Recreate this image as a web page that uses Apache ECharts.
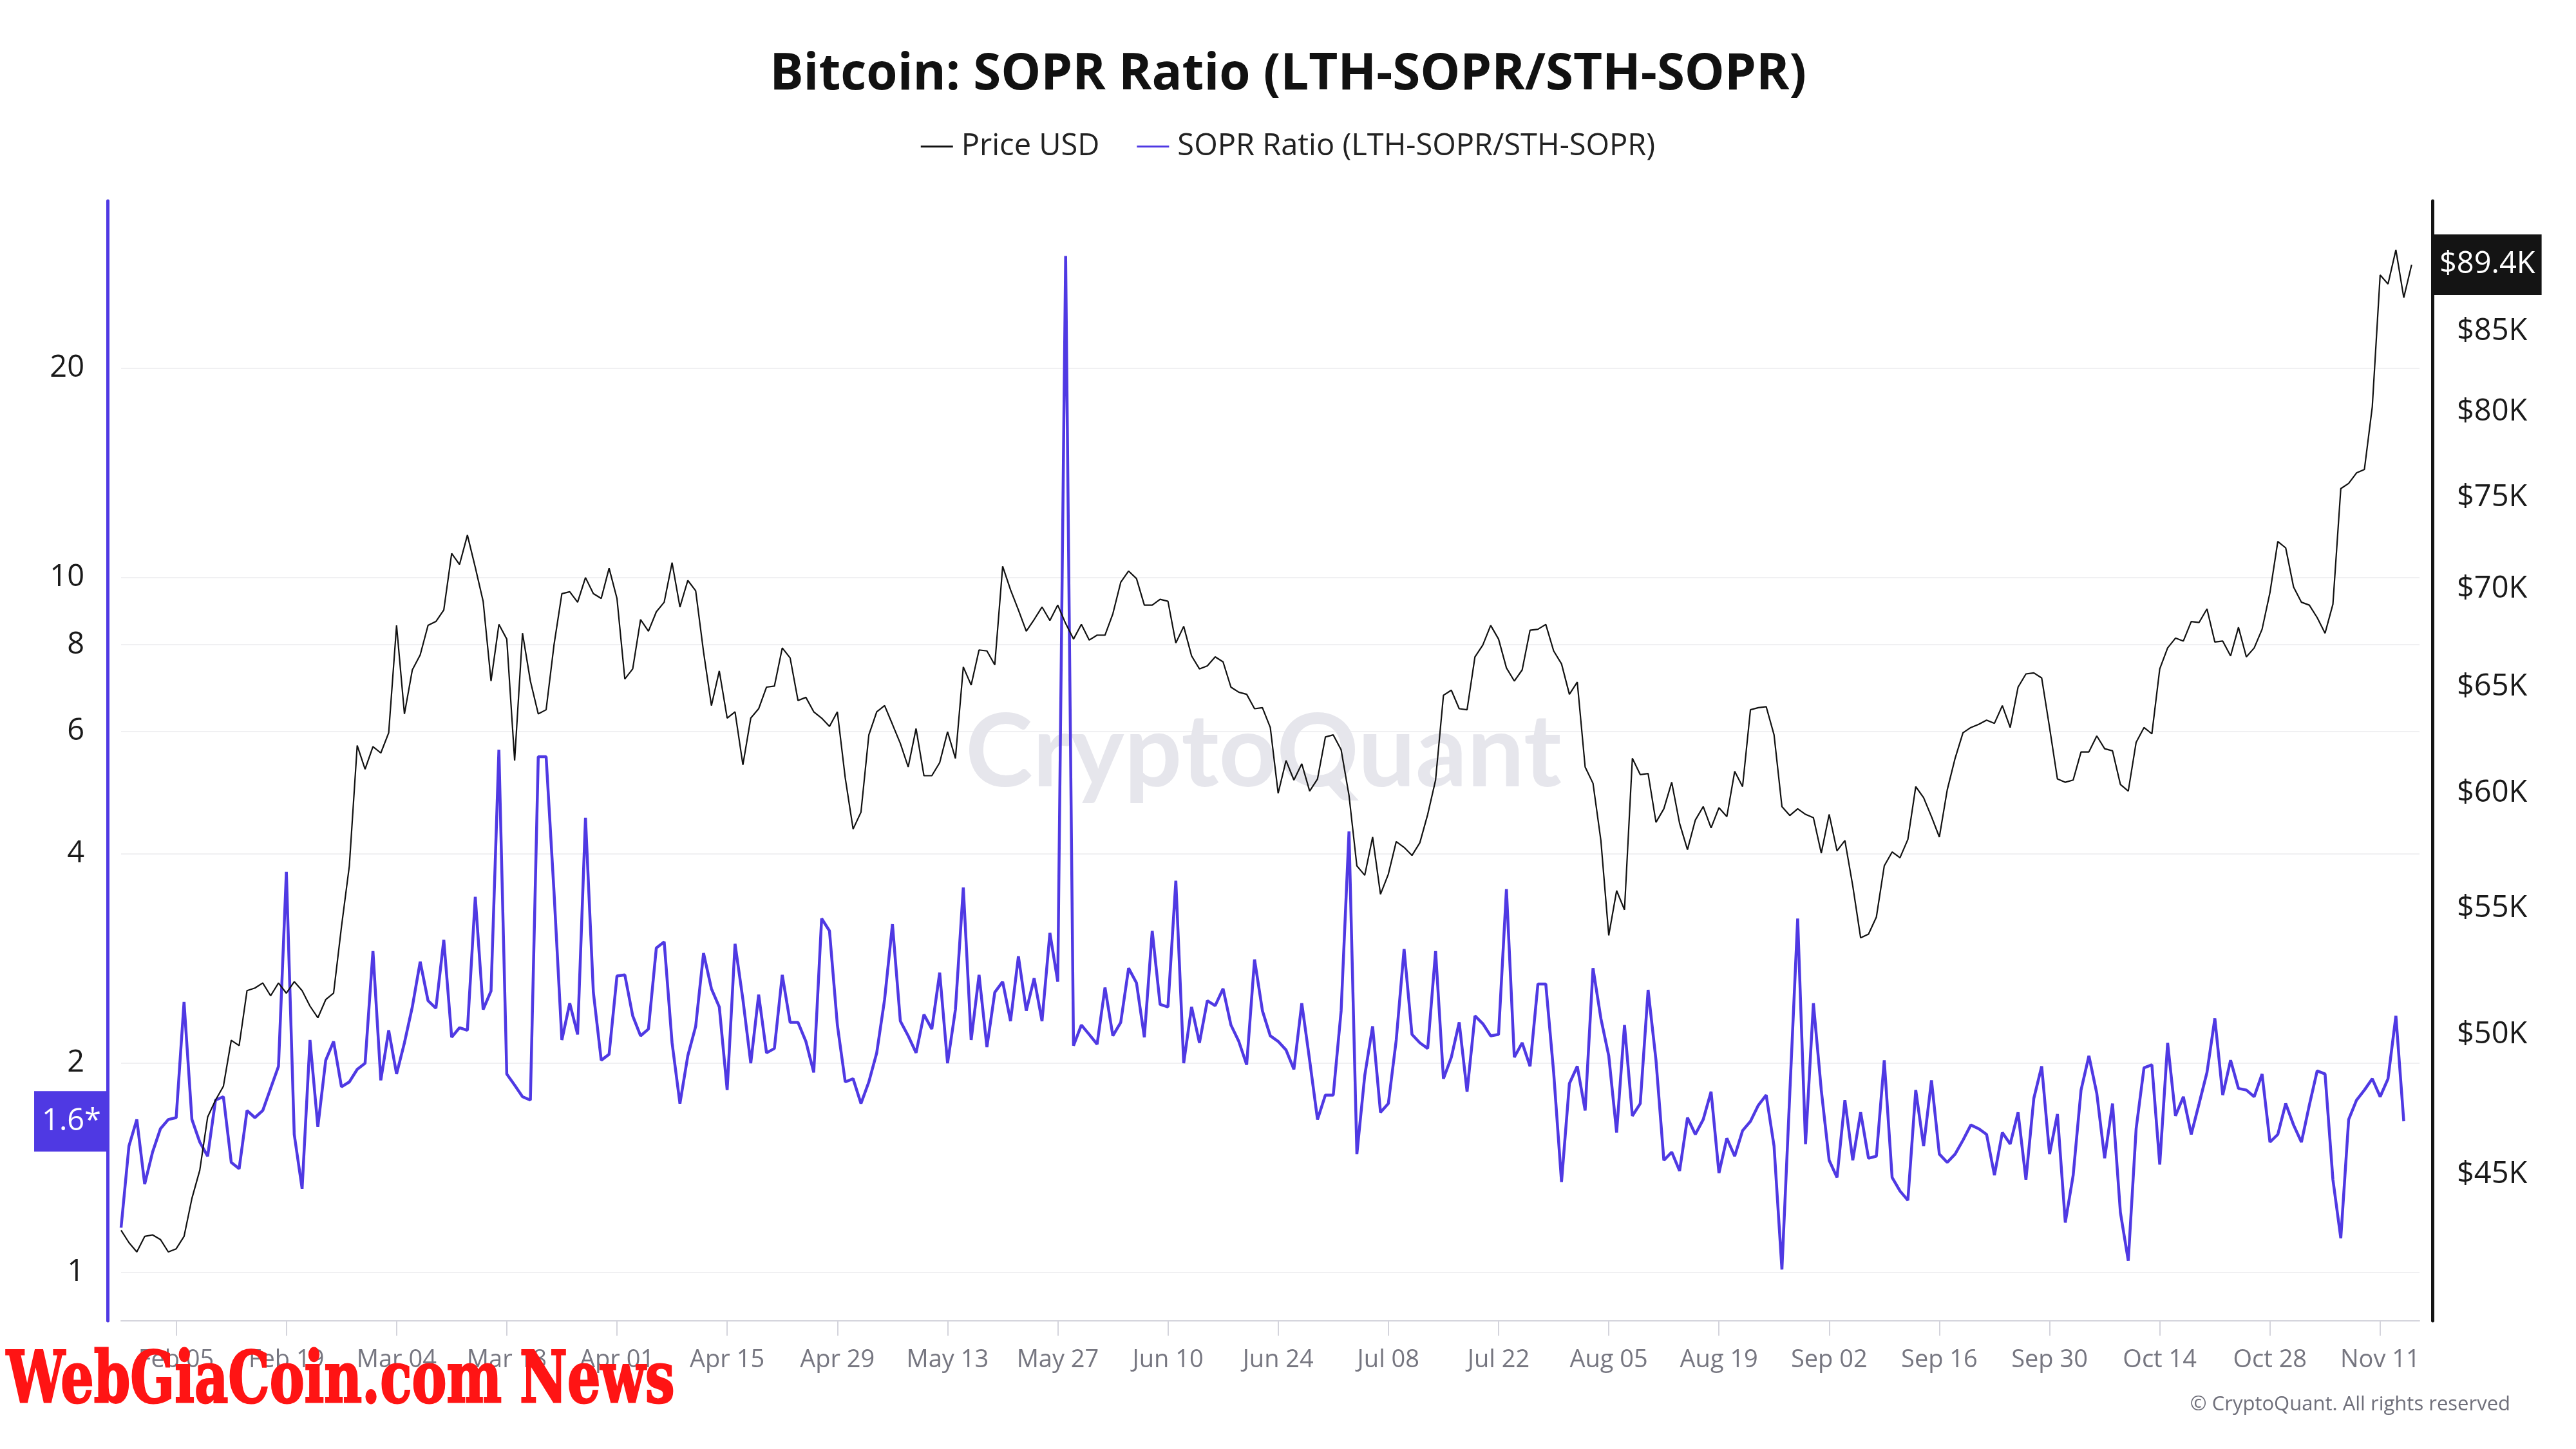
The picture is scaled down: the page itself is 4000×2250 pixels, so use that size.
<!DOCTYPE html>
<html><head><meta charset="utf-8">
<script src="https://cdn.jsdelivr.net/npm/echarts@6.0.0/dist/echarts.min.js"></script>
<style>html,body{margin:0;padding:0;background:#fff}#c{width:4000px;height:2250px}</style>
</head><body><div id="c"></div>
<script>
// ---- data ----
const startDate = [2024, 0, 29]; // Jan 29 2024, one value per day
const endDate = [2024, 10, 16];
const priceUsdK = [
43.15,42.75,42.45,42.95,43.0,42.85,42.45,42.55,42.95,44.2,
45.15,47.0,47.6,48.1,49.8,49.6,51.7,51.8,52.0,51.5,
52.0,51.6,52.05,51.7,51.1,50.65,51.35,51.6,54.25,56.8,
62.2,61.1,62.15,61.85,62.8,68.1,63.7,65.85,66.6,68.1,
68.3,68.9,71.9,71.3,72.9,71.15,69.35,65.3,68.15,67.4,
61.5,67.7,65.3,63.7,63.9,67.1,69.75,69.85,69.3,70.6,
69.75,69.5,71.1,69.5,65.4,65.9,68.4,67.8,68.8,69.3,
71.4,69.05,70.45,69.9,66.75,64.1,65.8,63.5,63.8,61.3,
63.5,63.95,65.0,65.05,66.95,66.45,64.35,64.5,63.8,63.5,
63.1,63.8,60.7,58.4,59.15,62.7,63.8,64.1,63.2,62.3,
61.2,63.0,60.8,60.8,61.4,62.85,61.6,66.0,65.1,66.85,
66.8,66.1,71.2,69.95,68.9,67.8,68.4,69.05,68.35,69.15,
68.2,67.4,68.15,67.35,67.6,67.6,68.7,70.35,70.95,70.55,
69.15,69.15,69.45,69.35,67.2,68.05,66.55,65.9,66.05,66.5,
66.25,65.0,64.75,64.65,63.95,64.0,63.05,60.0,61.5,60.6,
61.35,60.1,60.65,62.6,62.7,62.0,59.9,56.8,56.4,58.05,
55.6,56.45,57.85,57.6,57.25,57.8,59.05,60.6,64.6,64.85,
63.95,63.9,66.5,67.1,68.1,67.4,65.95,65.3,65.85,67.85,
67.9,68.15,66.8,66.15,64.65,65.25,61.2,60.45,57.9,53.9,
55.75,54.95,61.6,60.85,60.9,58.7,59.3,60.5,58.65,57.5,
58.8,59.4,58.45,59.35,58.95,61.0,60.3,63.9,64.0,64.05,
62.7,59.4,59.0,59.3,59.05,58.9,57.35,59.05,57.45,57.9,
55.95,53.8,53.95,54.65,56.8,57.4,57.15,57.95,60.3,59.8,
58.95,58.05,60.15,61.6,62.8,63.05,63.2,63.4,63.25,64.1,
63.05,65.0,65.65,65.7,65.45,63.05,60.65,60.5,60.6,61.9,
61.9,62.65,62.05,61.95,60.4,60.1,62.35,63.05,62.75,65.9,
66.95,67.45,67.3,68.3,68.25,68.95,67.25,67.3,66.55,68.0,
66.5,66.95,67.9,69.8,72.55,72.2,70.1,69.3,69.15,68.5,
67.7,69.2,75.5,75.8,76.4,76.6,80.3,88.7,88.1,90.4,
87.2,89.4
];
const soprRatio = [
1.16,1.52,1.66,1.34,1.49,1.61,1.66,1.67,2.45,1.66,
1.54,1.47,1.77,1.79,1.44,1.41,1.71,1.67,1.71,1.84,
1.98,3.77,1.58,1.32,2.16,1.62,2.02,2.15,1.85,1.88,
1.96,2.0,2.9,1.89,2.23,1.93,2.14,2.41,2.8,2.46,
2.4,3.01,2.18,2.25,2.23,3.47,2.39,2.54,5.65,1.93,
1.86,1.79,1.77,5.52,5.52,3.53,2.16,2.44,2.2,4.51,
2.53,2.02,2.06,2.67,2.68,2.34,2.19,2.24,2.93,2.99,
2.14,1.75,2.05,2.26,2.88,2.56,2.41,1.83,2.97,2.47,
2.0,2.51,2.07,2.1,2.68,2.29,2.29,2.15,1.94,3.23,
3.1,2.27,1.88,1.9,1.75,1.88,2.07,2.47,3.17,2.3,
2.19,2.07,2.35,2.24,2.7,2.0,2.39,3.58,2.16,2.68,
2.11,2.53,2.62,2.3,2.85,2.38,2.65,2.3,3.08,2.62,
29.0,2.12,2.27,2.2,2.13,2.57,2.19,2.29,2.74,2.61,
2.18,3.1,2.43,2.41,3.66,2.0,2.41,2.14,2.46,2.42,
2.56,2.27,2.15,1.99,2.82,2.38,2.19,2.15,2.09,1.96,
2.44,2.02,1.66,1.8,1.8,2.38,4.31,1.48,1.92,2.26,
1.7,1.75,2.16,2.92,2.2,2.14,2.1,2.9,1.9,2.04,
2.29,1.82,2.34,2.28,2.19,2.2,3.56,2.04,2.14,1.98,
2.6,2.6,1.94,1.35,1.87,1.98,1.71,2.74,2.32,2.05,
1.59,2.27,1.68,1.75,2.55,2.02,1.45,1.49,1.4,1.67,
1.58,1.66,1.82,1.39,1.56,1.47,1.6,1.65,1.74,1.8,
1.52,1.01,1.81,3.23,1.53,2.44,1.83,1.45,1.37,1.77,
1.45,1.7,1.46,1.47,2.02,1.37,1.31,1.27,1.83,1.52,
1.89,1.48,1.44,1.48,1.55,1.63,1.61,1.58,1.38,1.59,
1.53,1.7,1.36,1.78,1.98,1.48,1.69,1.18,1.38,1.83,
2.05,1.81,1.46,1.75,1.22,1.04,1.61,1.97,1.99,1.43,
2.14,1.68,1.79,1.58,1.75,1.94,2.32,1.8,2.02,1.84,
1.83,1.79,1.93,1.54,1.58,1.75,1.63,1.54,1.74,1.95,
1.93,1.36,1.12,1.66,1.77,1.83,1.9,1.79,1.9,2.34,
1.65
];
const leftTicks = [1, 2, 4, 6, 8, 10, 20];
const rightTicksK = [45, 50, 55, 60, 65, 70, 75, 80, 85];
const xTickDates = ['2024-02-05','2024-02-19','2024-03-04','2024-03-18','2024-04-01','2024-04-15',
  '2024-04-29','2024-05-13','2024-05-27','2024-06-10','2024-06-24','2024-07-08','2024-07-22',
  '2024-08-05','2024-08-19','2024-09-02','2024-09-16','2024-09-30','2024-10-14','2024-10-28','2024-11-11'];
const monthNames = ['Jan','Feb','Mar','Apr','May','Jun','Jul','Aug','Sep','Oct','Nov','Dec'];

// ---- helpers ----
function dayTs(i) { return new Date(startDate[0], startDate[1], startDate[2] + i).getTime(); }
function parseDay(s) { const p = s.split('-'); return new Date(+p[0], +p[1] - 1, +p[2]).getTime(); }
function pad(n) { return (n < 10 ? '0' : '') + n; }
const priceData = priceUsdK.map((v, i) => [dayTs(i), v]);
const soprData = soprRatio.map((v, i) => [dayTs(i), v]);
const xTicks = xTickDates.map(parseDay);
const lastPrice = priceUsdK[priceUsdK.length - 1];
const lastSopr = soprRatio[soprRatio.length - 1];

const FONT = 'Open Sans';
const chart = echarts.init(document.getElementById('c'), null, { renderer: 'canvas' });
chart.setOption({
  animation: false,
  backgroundColor: '#ffffff',
  title: {
    text: 'Bitcoin: SOPR Ratio (LTH-SOPR/STH-SOPR)',
    left: 'center', top: 78, padding: 0,
    textStyle: { fontFamily: FONT, fontWeight: 'bold', fontSize: 78, color: '#111111' }
  },
  legend: {
    top: 199, left: 'center', itemGap: 58, itemWidth: 50, itemHeight: 3, icon: 'rect',
    textStyle: { fontFamily: FONT, fontSize: 47, color: '#222222', padding: [0, 0, 0, 8] },
    data: ['Price USD', 'SOPR Ratio (LTH-SOPR/STH-SOPR)']
  },
  grid: { left: 188, right: 243, top: 312, bottom: 199 },
  xAxis: {
    type: 'value',
    min: dayTs(0),
    max: new Date(endDate[0], endDate[1], endDate[2]).getTime(),
    axisLine: { show: true, lineStyle: { color: '#d4d4dc', width: 2 } },
    axisTick: { show: true, customValues: xTicks, length: 23, lineStyle: { color: '#d4d4dc', width: 2 } },
    axisLabel: {
      customValues: xTicks, margin: 42, fontFamily: FONT, fontSize: 38, color: '#767680',
      formatter: function (v) { const d = new Date(v); return monthNames[d.getMonth()] + ' ' + pad(d.getDate()); }
    },
    splitLine: { show: false }
  },
  yAxis: [
    {
      type: 'log', logBase: 10, position: 'left', offset: 21,
      min: 0.852, max: 34.8,
      axisLine: { show: true, lineStyle: { color: '#4F39E3', width: 5 } },
      axisTick: { show: false, customValues: leftTicks },
      axisLabel: { customValues: leftTicks, margin: 36, fontFamily: FONT, fontSize: 47, color: '#1a1a1a' },
      splitLine: { show: true, lineStyle: { color: '#f0f0f2', width: 2 } }
    },
    {
      type: 'log', logBase: 10, position: 'right', offset: 20,
      min: 40.30, max: 93.8,
      axisLine: { show: true, lineStyle: { color: '#141414', width: 5 } },
      axisTick: { show: false, customValues: rightTicksK },
      axisLabel: {
        customValues: rightTicksK, margin: 38, fontFamily: FONT, fontSize: 47, color: '#1a1a1a',
        formatter: function (v) { return '$' + v + 'K'; }
      },
      splitLine: { show: false }
    }
  ],
  series: [
    {
      name: 'Price USD', type: 'line', yAxisIndex: 1, data: priceData,
      showSymbol: false, symbol: 'none', z: 3,
      lineStyle: { color: '#111111', width: 2.2 }, itemStyle: { color: '#111111' },
      markLine: {
        silent: true, symbol: ['none', 'none'], animation: false,
        lineStyle: { color: 'rgba(0,0,0,0)', width: 0 },
        data: [{ yAxis: lastPrice }],
        label: {
          show: true, position: 'end', distance: 21, color: '#ffffff', backgroundColor: '#141414',
          fontFamily: FONT, fontSize: 47, lineHeight: 54, padding: [20, 10, 20, 10],
          formatter: function (p) { return '$' + Number(p.value).toFixed(1) + 'K'; }
        }
      }
    },
    {
      name: 'SOPR Ratio (LTH-SOPR/STH-SOPR)', type: 'line', yAxisIndex: 0, data: soprData,
      showSymbol: false, symbol: 'none', z: 2,
      lineStyle: { color: '#4F39E3', width: 4.5 }, itemStyle: { color: '#4F39E3' },
      markLine: {
        silent: true, symbol: ['none', 'none'], animation: false,
        lineStyle: { color: 'rgba(0,0,0,0)', width: 0 },
        data: [{ yAxis: lastSopr }],
        label: {
          show: true, position: 'start', distance: 21, color: '#ffffff', backgroundColor: '#4F39E3',
          fontFamily: FONT, fontSize: 47, lineHeight: 54, padding: [20, 10, 20, 12],
          formatter: function (p) { return (Math.floor(Number(p.value) * 10) / 10).toFixed(1) + '*'; }
        }
      }
    }
  ],
  graphic: [
    {
      type: 'text', x: 1962, y: 1170, z: 1, silent: true,
      style: { text: 'CryptoQuant', font: 'bold 158px Lato', fill: '#e6e6ec', textAlign: 'center', textVerticalAlign: 'middle' }
    },
    {
      type: 'text', x: 3898, y: 2181, silent: true,
      style: { text: '\u00A9 CryptoQuant. All rights reserved', font: '31px "Open Sans"', fill: '#6f6f7a', textAlign: 'right', textVerticalAlign: 'middle' }
    },
    {
      type: 'text', x: 10, y: 2148, scaleX: 0.735, z: 100, silent: true,
      style: { text: 'WebGiaCoin.com News', x: 0, y: 0, font: 'bold 110px "DejaVu Serif"', fill: '#ff1414',
        stroke: '#ff1414', lineWidth: 3, textAlign: 'left', textVerticalAlign: 'middle' }
    }
  ]
});
</script></body></html>
